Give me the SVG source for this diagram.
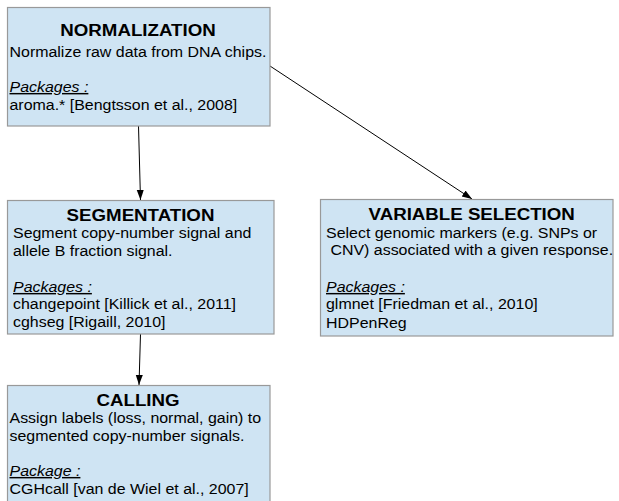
<svg xmlns="http://www.w3.org/2000/svg" width="619" height="501" viewBox="0 0 619 501">
<style>
.box{fill:#cfe4f3;stroke:#999999;stroke-width:1.2}
.t{font-family:"Liberation Sans",Arial,sans-serif;font-size:17px;font-weight:bold;fill:#000;text-anchor:middle}
.b{font-family:"Liberation Sans",Arial,sans-serif;font-size:14.5px;fill:#000}
.p{font-style:italic;text-decoration:underline}
.c{stroke:#000;stroke-width:1;fill:none;marker-end:url(#ah)}
</style>
<defs>
<marker id="ah" markerUnits="userSpaceOnUse" markerWidth="10" markerHeight="10" viewBox="0 0 10 10" refX="10" refY="5" orient="auto">
<path d="M0,1.5 L10,5 L0,8.5 Z" fill="#000"/>
</marker>
</defs>
<g id="connectors">
<line class="c" x1="138.5" y1="126" x2="140.5" y2="200"/>
<line class="c" x1="270" y1="66" x2="472" y2="199"/>
<line class="c" x1="140.5" y1="334" x2="139" y2="385"/>
</g>
<g id="normalization">
<rect class="box" x="7.5" y="7.5" width="262.5" height="118.5"/>
<g transform="translate(138,0) scale(1.1,1)"><text class="t" x="0" y="36">NORMALIZATION</text></g>
<g transform="translate(9.5,0) scale(1.1,1)">
<text class="b" x="0" y="57">Normalize raw data from DNA chips.</text>
<text class="b p" x="0" y="92">Packages :</text>
<text class="b" x="0" y="110">aroma.* [Bengtsson et al., 2008]</text>
</g>
</g>
<g id="segmentation">
<rect class="box" x="7.5" y="200.5" width="266.5" height="133.5"/>
<g transform="translate(140.5,0) scale(1.1,1)"><text class="t" x="0" y="221">SEGMENTATION</text></g>
<g transform="translate(13,0) scale(1.1,1)">
<text class="b" x="0" y="238">Segment copy-number signal and</text>
<text class="b" x="0" y="256">allele B fraction signal.</text>
<text class="b p" x="0" y="292">Packages :</text>
<text class="b" x="0" y="309">changepoint [Killick et al., 2011]</text>
<text class="b" x="0" y="327">cghseg [Rigaill, 2010]</text>
</g>
</g>
<g id="variable-selection">
<rect class="box" x="320.5" y="199.5" width="292.5" height="136.5"/>
<g transform="translate(471.7,0) scale(1.1,1)"><text class="t" x="0" y="220">VARIABLE SELECTION</text></g>
<g transform="translate(326,0) scale(1.1,1)">
<text class="b" x="0" y="238">Select genomic markers (e.g. SNPs or</text>
<text class="b" x="4" y="255">CNV) associated with a given response.</text>
<text class="b p" x="0" y="292">Packages :</text>
<text class="b" x="0" y="309">glmnet [Friedman et al., 2010]</text>
<text class="b" x="0" y="328">HDPenReg</text>
</g>
</g>
<g id="calling">
<rect class="box" x="7.5" y="385.5" width="262.5" height="130"/>
<g transform="translate(138,0) scale(1.1,1)"><text class="t" x="0" y="406">CALLING</text></g>
<g transform="translate(9.5,0) scale(1.1,1)">
<text class="b" x="0" y="423">Assign labels (loss, normal, gain) to</text>
<text class="b" x="0" y="441">segmented copy-number signals.</text>
<text class="b p" x="0" y="476">Package :</text>
<text class="b" x="0" y="494">CGHcall [van de Wiel et al., 2007]</text>
</g>
</g>
</svg>
